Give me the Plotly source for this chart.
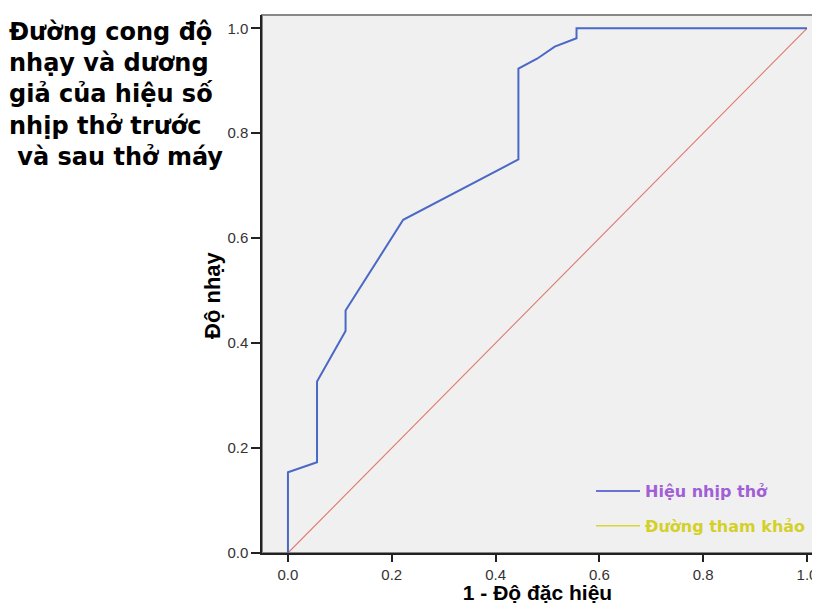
import plotly.graph_objects as go

# ROC curve data (1 - specificity, sensitivity)
fpr = [0.0, 0.0, 0.056, 0.056, 0.111, 0.111, 0.222, 0.444, 0.444, 0.48, 0.514, 0.556, 0.556, 1.0]
tpr = [0.0, 0.154, 0.173, 0.327, 0.423, 0.462, 0.635, 0.750, 0.923, 0.942, 0.965, 0.981, 1.0, 1.0]
ref_x = [0.0, 1.0]
ref_y = [0.0, 1.0]
tick_vals = [0.0, 0.2, 0.4, 0.6, 0.8, 1.0]
tick_text = ["0.0", "0.2", "0.4", "0.6", "0.8", "1.0"]

title_lines = ["Đường cong độ", "nhạy và dương", "giả của hiệu số", "nhịp thở trước", "\u00a0và sau thở máy"]
x_title = "1 - Độ đặc hiệu"
y_title = "Độ nhạy"

# page has an 8px body margin, so the figure is drawn offset by (8, 8)
OFF = 8
W, H = 820 - OFF, 604 - OFF
L, R, T, B = 262 - OFF, 7, 15 - OFF, 51
pw, ph = W - L - R, H - T - B


def px_x(x):  # reference pixel x -> paper x
    return (x - OFF - L) / pw


def px_y(y):  # reference pixel y -> paper y
    return (H - B - (y - OFF)) / ph


fig = go.Figure()
fig.add_trace(go.Scatter(x=ref_x, y=ref_y, mode="lines",
                         line=dict(color="#e0776c", width=1.1),
                         showlegend=False, hoverinfo="skip"))
fig.add_trace(go.Scatter(x=fpr, y=tpr, mode="lines",
                         line=dict(color="#4a68c6", width=2),
                         name="Hiệu nhịp thở", showlegend=False))
# legend entries
fig.add_trace(go.Scatter(x=[None], y=[None], mode="lines",
                         line=dict(color="#6a72d6", width=2),
                         name="<span style='color:#a05fd6'>Hiệu nhịp thở</span>",
                         legendgroup="a"))
fig.add_trace(go.Scatter(x=[None], y=[None], mode="lines",
                         line=dict(color="#d8d43a", width=1.5),
                         name="<span style='color:#d4d02a'>Đường tham khảo</span>",
                         legendgroup="b"))

fig.add_annotation(text="<br>".join(title_lines), xref="paper", yref="paper",
                   x=px_x(7), y=px_y(16), xanchor="left", yanchor="top",
                   align="left", showarrow=False,
                   font=dict(family="DejaVu Sans", size=24, color="black", weight="bold"))
fig.add_annotation(text=y_title, xref="paper", yref="paper", textangle=-90,
                   x=px_x(212), y=px_y(295), xanchor="center", yanchor="middle",
                   showarrow=False,
                   font=dict(family="Liberation Sans", size=22, color="black", weight="bold"))

fig.update_layout(
    width=W, height=H,
    margin=dict(l=L, r=R, t=T, b=B, autoexpand=False),
    paper_bgcolor="white",
    plot_bgcolor="#f0f0f0",
    legend=dict(x=px_x(591), xanchor="left", y=px_y(474), yanchor="top",
                bgcolor="rgba(0,0,0,0)", borderwidth=0, itemwidth=44,
                font=dict(family="DejaVu Sans", size=16, weight="bold"),
                tracegroupgap=11, traceorder="grouped"),
    xaxis=dict(range=[-0.05, 1.0116], tickvals=tick_vals, ticktext=tick_text, automargin=False,
               showgrid=False, zeroline=False, showline=True, linecolor="#222", linewidth=1.5,
               ticks="outside", ticklen=7, tickcolor="#222", tickwidth=1.5,
               tickfont=dict(family="Liberation Sans", size=15, color="#333"),
               title=dict(text=x_title, standoff=4,
                          font=dict(family="Liberation Sans", size=21, color="black", weight="bold"))),
    yaxis=dict(range=[0, 1.0253], tickvals=tick_vals, ticktext=tick_text, automargin=False,
               showgrid=False, zeroline=False, showline=True, linecolor="#222", linewidth=1.5,
               ticks="outside", ticklen=9, tickcolor="#222", tickwidth=1.5,
               tickfont=dict(family="Liberation Sans", size=15, color="#333")),
    shapes=[dict(type="rect", xref="paper", yref="paper", x0=0, y0=0, x1=1, y1=1,
                 line=dict(color="#888888", width=2), layer="below")],
)
fig.write_html("out.html")
